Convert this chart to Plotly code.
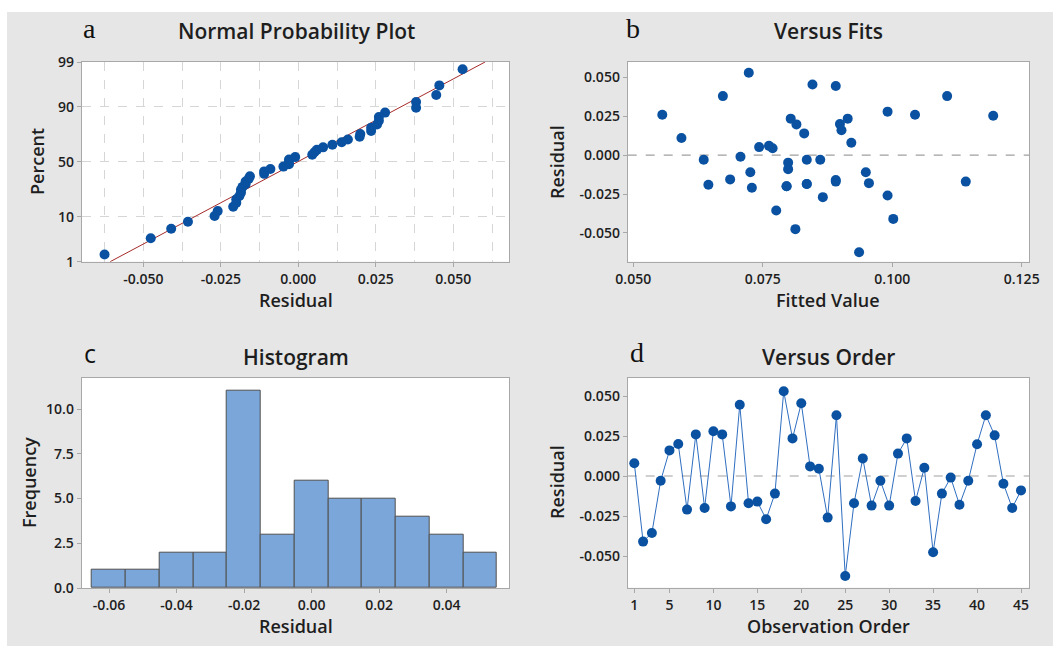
import plotly.graph_objects as go
from statistics import NormalDist
import numpy as np

W, H = 1053, 646

# ---------------- data ----------------
order = list(range(1, 46))
residuals = [0.008, -0.041, -0.0356, -0.003, 0.016, 0.020, -0.021, 0.026, -0.020, 0.028,
             0.026, -0.019, 0.0445, -0.017, -0.016, -0.027, -0.011, 0.053, 0.0235, 0.0455,
             0.006, 0.0045, -0.026, 0.038, -0.0625, -0.017, 0.011, -0.0185, -0.003, -0.0185,
             0.014, 0.0235, -0.0156, 0.0052, -0.0476, -0.011, -0.001, -0.018, -0.003, 0.0198,
             0.038, 0.0254, -0.0048, -0.020, -0.009]
fitted = [0.0921, 0.1002, 0.0776, 0.0636, 0.0902, 0.0899, 0.0729, 0.0556, 0.0796, 0.0991,
          0.1044, 0.0645, 0.0891, 0.1142, 0.0891, 0.0866, 0.0726, 0.0723, 0.0804, 0.0846,
          0.0762, 0.0769, 0.0991, 0.0673, 0.0936, 0.0891, 0.0593, 0.0835, 0.0835, 0.0835,
          0.0830, 0.0914, 0.0687, 0.0743, 0.0813, 0.0949, 0.0707, 0.0955, 0.0861, 0.0815,
          0.1106, 0.1195, 0.0799, 0.0796, 0.0799]

pct_ticks = [1, 10, 50, 90, 99]
a_xticks = [-0.05, -0.025, 0.0, 0.025, 0.05]
a_xtext = ["-0.050", "-0.025", "0.000", "0.025", "0.050"]
a_xminor = [-0.0625, -0.0375, -0.0125, 0.0125, 0.0375, 0.0625]
b_xticks = [0.05, 0.075, 0.1, 0.125]
b_xtext = ["0.050", "0.075", "0.100", "0.125"]
res_ticks = [-0.05, -0.025, 0.0, 0.025, 0.05]
res_text = ["-0.050", "-0.025", "0.000", "0.025", "0.050"]
c_xticks = [-0.06, -0.04, -0.02, 0.0, 0.02, 0.04]
c_xtext = ["-0.06", "-0.04", "-0.02", "0.00", "0.02", "0.04"]
c_yticks = [0, 2.5, 5, 7.5, 10]
c_ytext = ["0.0", "2.5", "5.0", "7.5", "10.0"]
d_xticks = [1, 5, 10, 15, 20, 25, 30, 35, 40, 45]

# ---------------- derived (normal probability plot) ----------------
nd = NormalDist()
n = len(residuals)
sorted_res = sorted(residuals)
z_pts = [nd.inv_cdf((i - 0.3) / (n + 0.4)) for i in range(1, n + 1)]
mu = float(np.mean(residuals))
sd = float(np.std(residuals, ddof=1))
z_lo, z_hi = nd.inv_cdf(0.01), nd.inv_cdf(0.99)
line_z = [z_lo, z_hi]
line_x = [mu + sd * z for z in line_z]
pct_vals = [nd.inv_cdf(p / 100) for p in pct_ticks]

# ---------------- style ----------------
FONT = "Open Sans"
BLUE = "#0A52A1"
AX = "#A8A8A8"
TXT = "#1E1E1E"
GRID = "#D6D6D6"

def px_x(x):
    return x / W

def px_y(y):
    return 1 - y / H

fig = go.Figure()

# a: normal probability plot
fig.add_trace(go.Scatter(x=line_x, y=line_z, mode="lines",
                         line=dict(color="#A52A2A", width=1), xaxis="x", yaxis="y",
                         showlegend=False, hoverinfo="skip"))
fig.add_trace(go.Scatter(x=sorted_res, y=z_pts, mode="markers",
                         marker=dict(color=BLUE, size=10), xaxis="x", yaxis="y",
                         showlegend=False))
# b: versus fits
fig.add_trace(go.Scatter(x=fitted, y=residuals, mode="markers",
                         marker=dict(color=BLUE, size=10), xaxis="x2", yaxis="y2",
                         showlegend=False))
# c: histogram
fig.add_trace(go.Histogram(x=residuals, xbins=dict(start=-0.065, end=0.055, size=0.01),
                           marker=dict(color="#7BA6DA", line=dict(color="#505050", width=1)),
                           xaxis="x3", yaxis="y3", showlegend=False))
# d: versus order
fig.add_trace(go.Scatter(x=order, y=residuals, mode="lines+markers",
                         line=dict(color="#2F6EC0", width=1),
                         marker=dict(color=BLUE, size=10), xaxis="x4", yaxis="y4",
                         showlegend=False))

tickfont = dict(family=FONT, size=14, color=TXT, weight=600)
base = dict(showline=True, linecolor=AX, linewidth=1, mirror=True, ticks="outside",
            ticklen=4, tickcolor=AX, tickfont=tickfont, zeroline=False, showgrid=False,
            tickmode="array", fixedrange=True, automargin=False)

dom_a_x = [px_x(81.7), px_x(509)]
dom_b_x = [px_x(627.7), px_x(1029)]
dom_top_y = [px_y(261.7), px_y(62)]
dom_bot_y = [px_y(588), px_y(377.7)]

fig.update_layout(
    width=W, height=H, margin=dict(l=0, r=0, t=0, b=0, autoexpand=False),
    paper_bgcolor="#E6E6E6", plot_bgcolor="white",
    bargap=0,
    xaxis=dict(base, domain=dom_a_x, anchor="y", range=[-0.06987, 0.06797],
               tickvals=a_xticks, ticktext=a_xtext, showgrid=True, gridcolor=GRID,
               griddash="dash", gridwidth=1,
               minor=dict(tickvals=a_xminor, showgrid=True, gridcolor=GRID,
                          griddash="dash", ticklen=0)),
    yaxis=dict(base, domain=dom_top_y, anchor="x", range=[z_lo, z_hi],
               tickvals=pct_vals, ticktext=[str(p) for p in pct_ticks],
               showgrid=True, gridcolor=GRID, griddash="dash", gridwidth=1),
    xaxis2=dict(base, domain=dom_b_x, anchor="y2", range=[0.04892, 0.12641],
                tickvals=b_xticks, ticktext=b_xtext),
    yaxis2=dict(base, domain=dom_top_y, anchor="x2", range=[-0.06855, 0.05995],
                tickvals=res_ticks, ticktext=res_text),
    xaxis3=dict(base, domain=dom_a_x, anchor="y3", range=[-0.0681, 0.0585],
                tickvals=c_xticks, ticktext=c_xtext),
    yaxis3=dict(base, domain=dom_bot_y, anchor="x3", range=[0, 11.75],
                tickvals=c_yticks, ticktext=c_ytext),
    xaxis4=dict(base, domain=dom_b_x, anchor="y4", range=[0.249, 45.91],
                tickvals=d_xticks, ticktext=[str(v) for v in d_xticks]),
    yaxis4=dict(base, domain=[px_y(587.7), px_y(377.7)], anchor="x4",
                range=[-0.0698, 0.06144], tickvals=res_ticks, ticktext=res_text),
)

# zero reference lines
for xr, yr in [("x2", "y2"), ("x4", "y4")]:
    fig.add_shape(type="line", xref=f"{xr} domain", yref=yr, x0=0, x1=1, y0=0, y1=0,
                  line=dict(color="#A0A0A0", width=1.2, dash="dash"), layer="below")

# white strips at top and left edges
fig.add_shape(type="rect", xref="paper", yref="paper", x0=0, x1=1, y0=px_y(12), y1=1,
              fillcolor="white", line=dict(width=0))
fig.add_shape(type="rect", xref="paper", yref="paper", x0=0, x1=px_x(7), y0=0, y1=1,
              fillcolor="white", line=dict(width=0))

def ann(text, x, y, size, family=FONT, weight=600, angle=0, color=TXT):
    fig.add_annotation(text=text, x=px_x(x), y=px_y(y), xref="paper", yref="paper",
                       xanchor="center", yanchor="middle", showarrow=False,
                       textangle=angle,
                       font=dict(family=family, size=size, color=color, weight=weight))

# panel titles
ann("Normal Probability Plot", 296, 31, 21)
ann("Versus Fits", 828, 31, 21)
ann("Histogram", 296, 356.5, 21)
ann("Versus Order", 828, 356.5, 21)
# panel letters
ann("a", 89, 28, 28, family="Liberation Serif", weight=400, color="#111")
ann("b", 633, 28, 28, family="Liberation Serif", weight=400, color="#111")
ann("c", 90, 353, 25, family="Open Sans", weight=500, color="#111")
ann("d", 637, 352, 28, family="Liberation Serif", weight=400, color="#111")
# axis titles
ann("Residual", 296, 300, 18)
ann("Fitted Value", 828, 300, 18)
ann("Residual", 296, 626, 18)
ann("Observation Order", 828, 626, 18)
ann("Percent", 37, 162, 18, angle=-90)
ann("Residual", 557, 162, 18, angle=-90)
ann("Frequency", 29, 483, 18, angle=-90)
ann("Residual", 557, 482, 18, angle=-90)

fig.write_html("out.html")
